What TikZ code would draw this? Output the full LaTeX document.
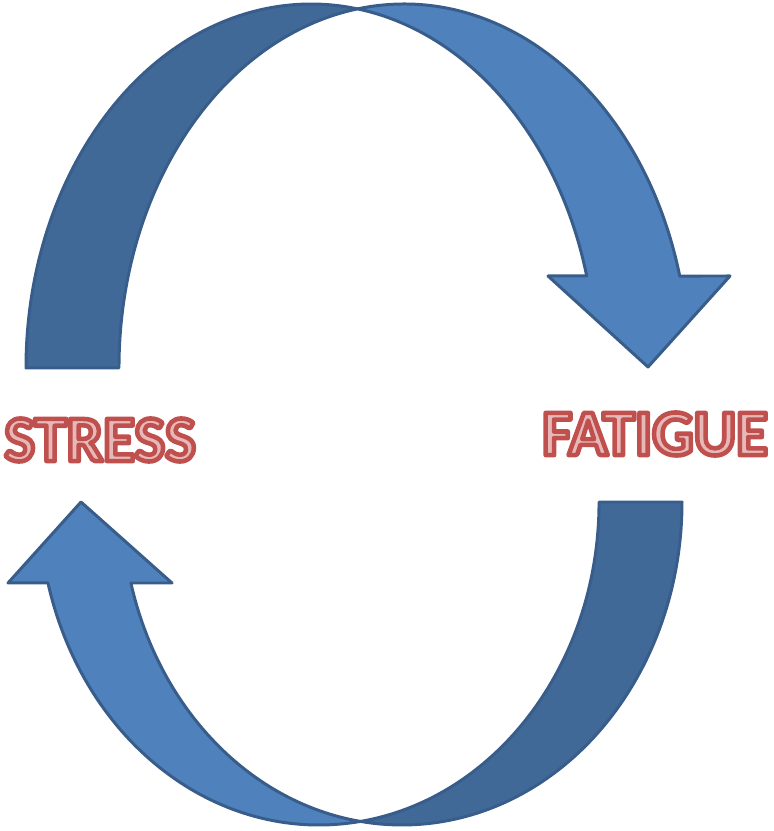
\documentclass[tikz,border=0pt]{standalone}
\usepackage{fontspec}
\setmainfont{Carlito}
\definecolor{ArrowBack}{RGB}{65,105,152}
\definecolor{ArrowFront}{RGB}{79,129,189}
\definecolor{ArrowLine}{RGB}{56,93,138}
\definecolor{WordFill}{RGB}{230,185,184}
% red outline round the letters: stroke them as well as fill them
\newcommand{\Outlined}[1]{\special{pdf:literal direct 2 Tr 2.6 w 1 j 0.753 0.314 0.302 RG}#1\special{pdf:literal direct 0 Tr}}

\begin{document}
\begin{tikzpicture}[scale=0.2]
    \tikzset{BackStyle/.style={fill=ArrowBack, draw=ArrowLine, line width=1.7pt, line join=round}}
    \tikzset{FrontStyle/.style={fill=ArrowFront, draw=ArrowLine, line width=1.7pt, line join=round}}
    \tikzset{WordStyle/.style={font=\bfseries\fontsize{37}{42}\selectfont, text=WordFill, inner sep=0pt}}
    \useasboundingbox (0,0) rectangle (77.3,83.1);
    % upper arrow
    \coordinate (topmeet) at (35.75,82.21);
    \draw[BackStyle] (2.6,46.3)
        arc[start angle=180, end angle=80.61, x radius=28.5, y radius=36.4]
        arc[start angle=99.39, end angle=180, x radius=28.5, y radius=36.4] -- cycle;
    \draw[FrontStyle] (topmeet)
        arc[start angle=99.39, end angle=14.64, x radius=28.5, y radius=36.4]
        -- (73.0,55.5) -- (64.8,46.4) -- (54.8,55.5) -- (58.67,55.5)
        arc[start angle=14.64, end angle=80.61, x radius=28.5, y radius=36.4] -- cycle;
    % lower arrow
    \coordinate (lowmeet) at (36.05,0.96);
    \draw[BackStyle] (68.2,32.9)
        arc[start angle=0, end angle=-98.52, x radius=28, y radius=32.3]
        arc[start angle=-81.48, end angle=0, x radius=28, y radius=32.3] -- cycle;
    \draw[FrontStyle] (lowmeet)
        arc[start angle=-81.48, end angle=-165.48, x radius=28, y radius=32.3]
        -- (0.8,24.8) -- (8.1,32.9) -- (17.2,24.8) -- (13.09,24.8)
        arc[start angle=-165.48, end angle=-98.52, x radius=28, y radius=32.3] -- cycle;
    % words
    \node[WordStyle] (stress) at (10.0,39.1) {\Outlined{STRESS}};
    \node[WordStyle] (fatigue) at (65.5,39.7) {\Outlined{FATIGUE}};
\end{tikzpicture}
\end{document}
